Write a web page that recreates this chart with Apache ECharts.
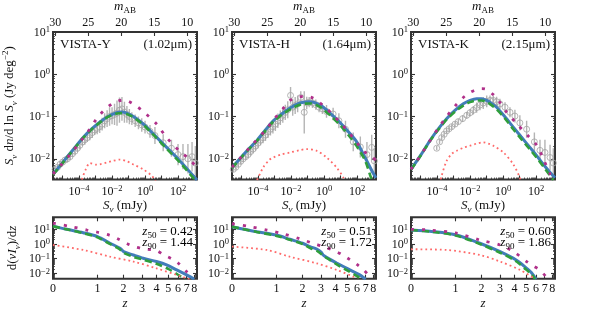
<!DOCTYPE html>
<html><head><meta charset="utf-8">
<script src="https://cdn.jsdelivr.net/npm/echarts@6/dist/echarts.min.js"></script>
<style>html,body{margin:0;padding:0;background:#fff}#c{width:591px;height:310px}</style>
</head><body><div id="c"></div>
<script>
// ================= DATA (values are log10 of the plotted quantities) =================
const bandNames = ['VISTA-Y', 'VISTA-H', 'VISTA-K'];
const bandWaves = ['(1.02μm)', '(1.64μm)', '(2.15μm)'];
const z50Vals = ['0.42', '0.51', '0.60'];
const z90Vals = ['1.44', '1.72', '1.86'];

// tick labels
const sTickExp = [-4, -2, 0, 2];            // S_nu (mJy), 10^n
const sMajorExp = [-5, -4, -3, -2, -1, 0, 1, 2, 3];
const yTopTickExp = [-2, -1, 0, 1];
const yBotTickExp = [-2, -1, 0, 1];
const mabTicks = [30, 25, 20, 15, 10];
const zTicks = [0, 1, 2, 3, 4, 5, 6, 7, 8];

// axis limits (log10)
const LOGS_MIN = -5.58, LOGS_MAX = 3.15;
const YT_MIN = -2.49, YT_MAX = 1.0;
const YB_MIN = -2.37, YB_MAX = 1.82;
const ZMAX = 8.4;

// ---- number counts: [log10 S (mJy), log10 S dn/dlnS] ----
const Y_blue = [[-5.58,-2.36],[-5.2,-2.19],[-4.75,-1.97],[-4.25,-1.73],[-3.74,-1.49],[-3.25,-1.30],[-2.73,-1.13],[-2.25,-1.0],[-1.72,-0.91],[-1.4,-0.895],[-1.11,-0.92],[-0.7,-1.0],[-0.31,-1.11],[0.1,-1.25],[0.5,-1.41],[1.31,-1.73],[2.12,-2.05],[2.92,-2.40],[3.15,-2.5]];
const Y_green = [[-5.58,-2.38],[-5.2,-2.2],[-4.75,-1.98],[-4.25,-1.74],[-3.74,-1.5],[-3.25,-1.31],[-2.73,-1.14],[-2.25,-1.01],[-1.72,-0.93],[-1.4,-0.92],[-1.11,-0.94],[-0.7,-1.02],[-0.31,-1.13],[0.1,-1.27],[0.5,-1.43],[1.31,-1.76],[2.12,-2.09],[2.92,-2.45],[3.1,-2.52]];
const Y_mag = [[-5.58,-2.36],[-4.5,-1.88],[-3.94,-1.6],[-3.5,-1.38],[-2.93,-1.05],[-2.5,-0.86],[-2.0,-0.7],[-1.6,-0.63],[-1.3,-0.61],[-1.0,-0.64],[-0.5,-0.76],[0.0,-0.92],[0.71,-1.18],[1.31,-1.5],[2.12,-1.83],[2.6,-1.98],[3.15,-2.2]];
const Y_red = [[-3.9,-2.6],[-3.84,-2.5],[-3.58,-2.24],[-3.34,-2.10],[-2.97,-2.14],[-2.73,-2.13],[-2.33,-2.09],[-1.94,-2.05],[-1.52,-2.02],[-1.1,-2.06],[-0.73,-2.13],[-0.11,-2.25],[0.4,-2.4],[0.6,-2.5],[0.7,-2.6]];
// observed counts: [log10 S, log10 value, error (dex)]
const Y_obs = [[-5.45,-2.25,0.06],[-5.3,-2.2,0.06],[-5.15,-2.13,0.07],[-5.0,-2.08,0.06],[-4.85,-2.03,0.07],[-4.7,-2.0,0.08],[-4.55,-1.95,0.07],[-4.4,-1.88,0.08],[-4.25,-1.82,0.08],[-4.1,-1.75,0.09],[-3.95,-1.68,0.1],[-3.8,-1.6,0.1],[-3.65,-1.55,0.12],[-3.5,-1.5,0.1],[-3.35,-1.44,0.12],[-3.2,-1.38,0.13],[-3.05,-1.32,0.12],[-2.9,-1.28,0.14],[-2.75,-1.24,0.15],[-2.6,-1.18,0.15],[-2.45,-1.1,0.18],[-2.3,-1.05,0.2],[-2.15,-1.0,0.22],[-2.0,-0.98,0.2],[-1.85,-0.95,0.25],[-1.7,-0.92,0.3],[-1.55,-0.85,0.3],[-1.4,-0.82,0.28],[-1.25,-0.9,0.25],[-1.1,-0.95,0.2],[-0.95,-1.0,0.18],[-0.8,-1.05,0.15],[-0.6,-1.1,0.15],[-0.4,-1.15,0.15],[-0.2,-1.2,0.16],[0.0,-1.25,0.15],[0.3,-1.35,0.15],[0.6,-1.45,0.2],[1.1,-1.62,0.2],[1.6,-1.75,0.2],[2.0,-1.9,0.25],[2.3,-1.95,0.3],[2.6,-2.0,0.35],[2.85,-1.95,0.35],[3.05,-2.1,0.4]];

const H_blue = [[-5.58,-2.21],[-5.0,-1.95],[-4.5,-1.74],[-4.08,-1.57],[-3.58,-1.33],[-3.08,-1.10],[-2.56,-0.94],[-2.06,-0.8],[-1.6,-0.7],[-1.26,-0.66],[-0.9,-0.65],[-0.65,-0.66],[-0.3,-0.72],[-0.05,-0.78],[0.45,-0.95],[0.97,-1.14],[1.5,-1.37],[1.98,-1.6],[2.5,-1.98],[2.99,-2.35],[3.15,-2.45]];
const H_green = [[-5.58,-2.22],[-5.0,-1.96],[-4.5,-1.75],[-4.08,-1.58],[-3.58,-1.35],[-3.08,-1.12],[-2.56,-0.96],[-2.06,-0.83],[-1.6,-0.74],[-1.26,-0.7],[-0.9,-0.69],[-0.65,-0.7],[-0.3,-0.76],[-0.05,-0.83],[0.45,-1.0],[0.97,-1.2],[1.5,-1.45],[1.98,-1.7],[2.5,-2.05],[2.85,-2.45],[3.0,-2.6]];
const H_mag = [[-5.58,-2.2],[-4.5,-1.73],[-3.5,-1.3],[-3.0,-1.05],[-2.5,-0.82],[-2.06,-0.62],[-1.6,-0.54],[-1.2,-0.52],[-0.8,-0.54],[-0.3,-0.66],[0.2,-0.83],[0.55,-0.97],[1.0,-1.15],[1.57,-1.41],[2.0,-1.62],[2.37,-1.81],[2.97,-1.97],[3.15,-2.05]];
const H_red = [[-4.2,-2.6],[-4.08,-2.52],[-3.68,-2.2],[-3.3,-2.02],[-3.08,-1.97],[-2.6,-1.9],[-2.06,-1.85],[-1.5,-1.8],[-1.05,-1.77],[-0.45,-1.81],[0.16,-1.97],[0.77,-2.21],[1.18,-2.45],[1.3,-2.6]];
const H_obs = [[-5.5,-2.25,0.06],[-5.35,-2.2,0.06],[-5.2,-2.13,0.07],[-5.05,-2.06,0.07],[-4.9,-2.0,0.08],[-4.75,-1.95,0.08],[-4.6,-1.9,0.09],[-4.45,-1.83,0.1],[-4.3,-1.77,0.1],[-4.15,-1.7,0.11],[-4.0,-1.63,0.12],[-3.85,-1.56,0.12],[-3.7,-1.5,0.13],[-3.55,-1.44,0.14],[-3.4,-1.36,0.15],[-3.25,-1.3,0.15],[-3.1,-1.24,0.16],[-2.95,-1.18,0.16],[-2.8,-1.1,0.17],[-2.65,-1.03,0.17],[-2.5,-0.97,0.18],[-2.35,-0.9,0.18],[-2.2,-0.84,0.2],[-2.03,-0.5,0.2],[-1.9,-0.78,0.2],[-1.75,-0.74,0.2],[-1.6,-0.7,0.2],[-1.41,-0.55,0.15],[-1.2,-0.9,0.5],[-1.05,-0.68,0.15],[-0.9,-0.66,0.12],[-0.7,-0.68,0.12],[-0.5,-0.72,0.12],[-0.3,-0.78,0.12],[-0.1,-0.82,0.12],[0.15,-0.88,0.15],[0.55,-0.94,0.15],[0.9,-1.1,0.18],[1.3,-1.3,0.2],[1.77,-1.6,0.22],[2.2,-1.72,0.25],[2.6,-1.9,0.3],[2.89,-1.73,0.3],[3.05,-2.05,0.3]];

const K_blue = [[-5.58,-2.25],[-5.0,-1.92],[-4.43,-1.57],[-3.9,-1.28],[-3.42,-1.05],[-2.9,-0.85],[-2.41,-0.70],[-2.0,-0.62],[-1.6,-0.58],[-1.3,-0.58],[-0.99,-0.62],[-0.7,-0.69],[-0.39,-0.78],[0.1,-1.0],[0.62,-1.25],[1.1,-1.48],[1.63,-1.73],[2.05,-1.93],[2.44,-2.13],[2.8,-2.3],[3.15,-2.45]];
const K_green = [[-5.58,-2.26],[-5.0,-1.93],[-4.43,-1.58],[-3.9,-1.3],[-3.42,-1.07],[-2.9,-0.88],[-2.41,-0.74],[-2.0,-0.66],[-1.6,-0.62],[-1.3,-0.62],[-0.99,-0.66],[-0.7,-0.73],[-0.39,-0.83],[0.1,-1.04],[0.62,-1.3],[1.1,-1.53],[1.63,-1.78],[2.05,-1.98],[2.44,-2.18],[2.8,-2.37],[3.05,-2.5]];
const K_mag = [[-5.58,-2.25],[-5.0,-1.92],[-4.43,-1.57],[-3.9,-1.26],[-3.42,-1.0],[-2.9,-0.75],[-2.41,-0.55],[-2.0,-0.43],[-1.6,-0.36],[-1.3,-0.34],[-1.0,-0.36],[-0.6,-0.48],[-0.2,-0.66],[0.22,-0.9],[0.83,-1.17],[1.5,-1.45],[2.04,-1.68],[2.44,-2.0],[2.85,-2.36],[3.1,-2.55]];
const K_red = [[-3.85,-2.6],[-3.72,-2.4],[-3.42,-2.05],[-3.1,-1.88],[-2.81,-1.81],[-2.4,-1.74],[-2.0,-1.69],[-1.6,-1.64],[-1.2,-1.61],[-0.9,-1.64],[-0.59,-1.69],[0.02,-1.85],[0.62,-2.13],[1.02,-2.45],[1.1,-2.6]];
const K_obs = [[-4.02,-1.75,0.05],[-3.85,-1.6,0.05],[-3.72,-1.5,0.05],[-3.57,-1.42,0.05],[-3.42,-1.34,0.06],[-3.27,-1.29,0.06],[-3.11,-1.24,0.06],[-2.91,-1.18,0.07],[-2.71,-1.12,0.07],[-2.45,-1.05,0.08],[-2.2,-0.97,0.08],[-2.0,-0.91,0.09],[-1.8,-0.85,0.1],[-1.6,-0.79,0.12],[-1.4,-0.73,0.12],[-1.2,-0.68,0.14],[-0.99,-0.64,0.14],[-0.79,-0.62,0.12],[-0.59,-0.62,0.12],[-0.39,-0.65,0.12],[-0.19,-0.7,0.12],[0.12,-0.78,0.12],[0.42,-0.9,0.12],[0.72,-0.99,0.15],[1.02,-1.15,0.18],[1.43,-1.3,0.2],[1.9,-1.6,0.22],[2.24,-1.8,0.25],[2.54,-1.85,0.3],[2.85,-1.97,0.3],[3.05,-2.1,0.35]];

// ---- redshift distributions: [z, log10 d(nu I_nu)/dz] ----
const Yz_blue = [[0,1.22],[0.24,1.0],[0.6,0.77],[1,0.5],[1.43,0.05],[1.84,-0.29],[2.0,-0.52],[2.49,-0.75],[3.07,-0.97],[4.0,-1.2],[4.86,-1.43],[5.85,-1.77],[7.0,-2.11],[7.6,-2.27],[8.0,-2.4]];
const Yz_green = [[0,1.2],[0.3,0.95],[0.6,0.74],[1,0.45],[1.4,0.02],[1.8,-0.33],[2.0,-0.6],[2.5,-0.88],[3,-1.05],[4,-1.35],[5,-1.7],[6,-2.1],[6.8,-2.4]];
const Yz_mag = [[0,1.42],[0.3,1.2],[0.7,0.95],[1,0.8],[1.4,0.6],[1.8,0.3],[2.2,0.0],[2.6,-0.2],[3.2,-0.35],[4,-0.45],[4.6,-0.75],[5.3,-1.0],[6,-1.3],[7,-1.9],[7.6,-2.3]];
const Yz_red = [[0,-0.07],[0.6,-0.41],[1.43,-0.87],[2.49,-1.2],[4,-1.66],[5.85,-2.11],[7,-2.34],[7.6,-2.45]];

const Hz_blue = [[0,1.18],[0.47,0.84],[1,0.61],[1.46,0.32],[2,0.05],[2.36,-0.18],[2.74,-0.35],[3.0,-0.55],[3.16,-0.78],[3.5,-1.0],[4.1,-1.3],[5.27,-1.77],[6.3,-2.11],[7.0,-2.4]];
const Hz_green = [[0,1.18],[0.47,0.82],[1,0.55],[1.46,0.28],[2,0.0],[2.4,-0.3],[2.8,-0.5],[3.2,-0.85],[3.6,-1.1],[4.1,-1.4],[5,-1.8],[6,-2.2],[6.5,-2.4]];
const Hz_mag = [[0,1.38],[0.3,1.2],[0.72,0.95],[1.2,0.7],[1.88,0.35],[2.5,0.05],[3.2,-0.2],[4.0,-0.5],[4.6,-0.75],[5.3,-1.09],[6.0,-1.4],[6.8,-1.8],[7.5,-2.2]];
const Hz_red = [[0,-0.18],[0.72,-0.41],[1.46,-0.87],[2.73,-1.32],[4.1,-1.77],[5.6,-2.23],[6.0,-2.4]];

const Kz_blue = [[0,0.95],[0.42,0.84],[1.03,0.61],[1.92,0.05],[3.0,-0.52],[3.9,-0.97],[4.4,-1.25],[5.05,-1.66],[5.5,-1.95],[6.0,-2.4]];
const Kz_green = [[0,0.95],[0.42,0.82],[1.03,0.56],[1.92,0.0],[3,-0.6],[3.9,-1.05],[4.4,-1.35],[5,-1.75],[5.5,-2.05],[5.9,-2.4]];
const Kz_mag = [[0,1.0],[0.34,0.95],[1.0,0.75],[1.92,0.27],[3.0,-0.07],[3.9,-0.5],[5.05,-1.2],[5.7,-1.5],[6.4,-1.77],[7.3,-2.3]];
const Kz_red = [[0,-0.36],[0.74,-0.41],[1.92,-0.75],[3.0,-1.2],[4.45,-1.77],[5.7,-2.3]];

// ================= BUILD =================
const FONT = 'Liberation Serif';
const TXT = '#111';
const FRAME = '#333';
const C_BLUE = '#427dba', C_GREEN = '#2f9e3c', C_MAG = '#b0308a', C_RED = '#ff6a6a', C_OBS = '#b4b4b4';

const R = {
  r:   {fontFamily: FONT, fontSize: 13, color: TXT, lineHeight: 18},
  i:   {fontFamily: FONT, fontSize: 13, color: TXT, lineHeight: 18, fontStyle: 'italic'},
  sb:  {fontFamily: FONT, fontSize: 9, color: TXT, lineHeight: 10, verticalAlign: 'bottom'},
  sbi: {fontFamily: FONT, fontSize: 9, color: TXT, lineHeight: 10, verticalAlign: 'bottom', fontStyle: 'italic'},
  sp:  {fontFamily: FONT, fontSize: 9, color: TXT, lineHeight: 10, verticalAlign: 'top'}
};
const TR = {
  b: {fontFamily: FONT, fontSize: 12, color: TXT, lineHeight: 13, verticalAlign: 'bottom'},
  s: {fontFamily: FONT, fontSize: 8.5, color: TXT, lineHeight: 7, verticalAlign: 'top'}
};
function powFmt(v) { const e = Math.round(v); return '{b|10}{s|' + (e < 0 ? '\u2212' + (-e) : String(e)) + '}'; }
function minorLog(lo, hi) {
  const out = [];
  for (let e = Math.floor(lo) - 1; e <= Math.ceil(hi); e++) for (let k = 2; k <= 9; k++) {
    const v = e + Math.log10(k); if (v > lo && v < hi) out.push(v);
  }
  return out;
}
const mab = ls => 16.4 - 2.5 * ls;
const lz = z => Math.log10(1 + z);

const GX = [53, 232, 411], GW = 144;
const TOP_T = 32, TOP_H = 147.5, BOT_T = 217.3, BOT_H = 61.4;

const grids = [], xAxis = [], yAxis = [], series = [], graphic = [];
function tickAx(gi, pos, min, max, ticks, len, extra) {
  return Object.assign({
    type: 'value', gridIndex: gi, position: pos, min: min, max: max,
    axisLine: {show: false, onZero: false}, splitLine: {show: false},
    axisTick: {show: true, inside: true, length: len, customValues: ticks, lineStyle: {color: FRAME, width: len > 3 ? 1.1 : 0.8}},
    axisLabel: {show: false}, axisPointer: {show: false}
  }, extra || {});
}
function lineSeries(xi, yi, data, color, width, type) {
  return {type: 'line', xAxisIndex: xi, yAxisIndex: yi, data: data, showSymbol: false, smooth: 0.3,
    lineStyle: {color: color, width: width, type: type, cap: 'butt'}, silent: true, clip: true, z: 3};
}

const topSets = [
  {obs: Y_obs, blue: Y_blue, green: Y_green, mag: Y_mag, red: Y_red},
  {obs: H_obs, blue: H_blue, green: H_green, mag: H_mag, red: H_red},
  {obs: K_obs, blue: K_blue, green: K_green, mag: K_mag, red: K_red}
];
const botSets = [
  {blue: Yz_blue, green: Yz_green, mag: Yz_mag, red: Yz_red},
  {blue: Hz_blue, green: Hz_green, mag: Hz_mag, red: Hz_red},
  {blue: Kz_blue, green: Kz_green, mag: Kz_mag, red: Kz_red}
];

for (let p = 0; p < 3; p++) {
  // ---------- top panel ----------
  const gi = grids.length;
  grids.push({left: GX[p], top: TOP_T, width: GW, height: TOP_H, show: true, borderColor: FRAME, borderWidth: 2,
    backgroundColor: 'transparent', containLabel: false, outerBoundsMode: 'none'});
  const xi = xAxis.length;
  xAxis.push(tickAx(gi, 'bottom', LOGS_MIN, LOGS_MAX, sMajorExp, 4, {
    axisLabel: {show: true, customValues: sTickExp, formatter: powFmt, rich: TR, margin: 5, hideOverlap: false},
    name: '{i|S}{sbi|ν}{r| (mJy)}', nameLocation: 'middle', nameGap: 17, nameTextStyle: {rich: R}
  }));
  xAxis.push(tickAx(gi, 'bottom', LOGS_MIN, LOGS_MAX, minorLog(LOGS_MIN, LOGS_MAX), 2));
  xAxis.push(tickAx(gi, 'top', mab(LOGS_MAX), mab(LOGS_MIN), mabTicks, 4, {
    inverse: true,
    axisLabel: {show: true, customValues: mabTicks, margin: 3, fontFamily: FONT, fontSize: 12, color: TXT, lineHeight: 13, hideOverlap: false},
    name: '{i|m}{sb|AB}', nameLocation: 'middle', nameGap: 15, nameTextStyle: {rich: R}
  }));
  const yi = yAxis.length;
  yAxis.push(tickAx(gi, 'left', YT_MIN, YT_MAX, yTopTickExp, 4, Object.assign({
    axisLabel: {show: true, customValues: yTopTickExp, formatter: powFmt, rich: TR, margin: 3, hideOverlap: false}
  }, p === 0 ? {name: '{i|S}{sbi|ν}{r| d}{i|n}{r|/d ln }{i|S}{sbi|ν}{r| (Jy deg}{sp|\u22122}{r|)}', nameLocation: 'middle',
    nameGap: 34, nameRotate: 90, nameTextStyle: {rich: R}} : {})));
  yAxis.push(tickAx(gi, 'left', YT_MIN, YT_MAX, minorLog(YT_MIN, YT_MAX), 2));
  yAxis.push(tickAx(gi, 'right', YT_MIN, YT_MAX, yTopTickExp, 4));
  yAxis.push(tickAx(gi, 'right', YT_MIN, YT_MAX, minorLog(YT_MIN, YT_MAX), 2));

  const S = topSets[p];
  series.push({
    type: 'custom', xAxisIndex: xi, yAxisIndex: yi, data: S.obs, clip: true, silent: true, z: 1,
    renderItem: function (params, api) {
      const x = api.value(0), y = api.value(1), e = api.value(2);
      const a = api.coord([x, y - e]), b = api.coord([x, y + e]);
      return {type: 'line', shape: {x1: a[0], y1: a[1], x2: b[0], y2: b[1]}, style: {stroke: C_OBS, lineWidth: 1.4}};
    }
  });
  series.push({type: 'scatter', xAxisIndex: xi, yAxisIndex: yi, data: S.obs.map(d => [d[0], d[1]]), symbol: 'circle', symbolSize: 6,
    itemStyle: {color: 'rgba(0,0,0,0)', borderColor: '#a4a4a4', borderWidth: 1}, silent: true, clip: true, z: 2});
  series.push(lineSeries(xi, yi, S.blue, C_BLUE, 3, 'solid'));
  series.push(lineSeries(xi, yi, S.green, C_GREEN, 2.6, [7, 4]));
  series.push(lineSeries(xi, yi, S.mag, C_MAG, 2.8, [3, 8]));
  series.push(lineSeries(xi, yi, S.red, C_RED, 1.8, [1.8, 3]));

  graphic.push({type: 'text', x: GX[p] + 7, y: TOP_T + 13, silent: true,
    style: {text: bandNames[p], fontFamily: FONT, fontSize: 13, fill: TXT, verticalAlign: 'middle', align: 'left'}});
  graphic.push({type: 'text', x: GX[p] + GW - 5, y: TOP_T + 13, silent: true,
    style: {text: bandWaves[p], fontFamily: FONT, fontSize: 13, fill: TXT, verticalAlign: 'middle', align: 'right'}});

  // ---------- bottom panel ----------
  const gb = grids.length;
  grids.push({left: GX[p], top: BOT_T, width: GW, height: BOT_H, show: true, borderColor: FRAME, borderWidth: 2,
    backgroundColor: 'transparent', containLabel: false, outerBoundsMode: 'none'});
  const xb = xAxis.length;
  const zPos = zTicks.map(lz);
  xAxis.push(tickAx(gb, 'bottom', 0, lz(ZMAX), zPos, 4, {
    axisLabel: {show: true, customValues: zPos, formatter: v => String(Math.round(Math.pow(10, v) - 1)),
      margin: 4, fontFamily: FONT, fontSize: 12, color: TXT, lineHeight: 13, hideOverlap: false},
    name: '{i|z}', nameLocation: 'middle', nameGap: 15, nameTextStyle: {rich: R}
  }));
  xAxis.push(tickAx(gb, 'top', 0, lz(ZMAX), zPos, 4));
  const yb = yAxis.length;
  yAxis.push(tickAx(gb, 'left', YB_MIN, YB_MAX, yBotTickExp, 4, Object.assign({
    axisLabel: {show: true, customValues: yBotTickExp, formatter: powFmt, rich: TR, margin: 3, hideOverlap: false}
  }, p === 0 ? {name: '{r|d(}{i|νI}{sbi|ν}{r|)/d}{i|z}', nameLocation: 'middle', nameGap: 31, nameRotate: 90,
    nameTextStyle: {rich: R}} : {})));
  yAxis.push(tickAx(gb, 'left', YB_MIN, YB_MAX, minorLog(YB_MIN, YB_MAX), 2));
  yAxis.push(tickAx(gb, 'right', YB_MIN, YB_MAX, yBotTickExp, 4));
  yAxis.push(tickAx(gb, 'right', YB_MIN, YB_MAX, minorLog(YB_MIN, YB_MAX), 2));

  const B = botSets[p];
  const tz = arr => arr.map(d => [lz(d[0]), d[1]]);
  series.push(lineSeries(xb, yb, tz(B.blue), C_BLUE, 3, 'solid'));
  series.push(lineSeries(xb, yb, tz(B.green), C_GREEN, 2.6, [7, 4]));
  series.push(lineSeries(xb, yb, tz(B.mag), C_MAG, 2.8, [3, 8]));
  series.push(lineSeries(xb, yb, tz(B.red), C_RED, 1.8, [1.8, 3]));

  graphic.push({type: 'text', x: GX[p] + GW - 4, y: BOT_T + 14, silent: true, z: 10,
    style: {text: '{i|z}{sb|50}{r| = ' + z50Vals[p] + '}', rich: R, align: 'right', verticalAlign: 'middle'}});
  graphic.push({type: 'text', x: GX[p] + GW - 4, y: BOT_T + 25, silent: true, z: 10,
    style: {text: '{i|z}{sb|90}{r| = ' + z90Vals[p] + '}', rich: R, align: 'right', verticalAlign: 'middle'}});
}

const chart = echarts.init(document.getElementById('c'), null, {renderer: 'canvas'});
chart.setOption({
  animation: false, backgroundColor: '#fff',
  textStyle: {fontFamily: FONT},
  grid: grids, xAxis: xAxis, yAxis: yAxis, series: series, graphic: graphic
});
</script></body></html>
